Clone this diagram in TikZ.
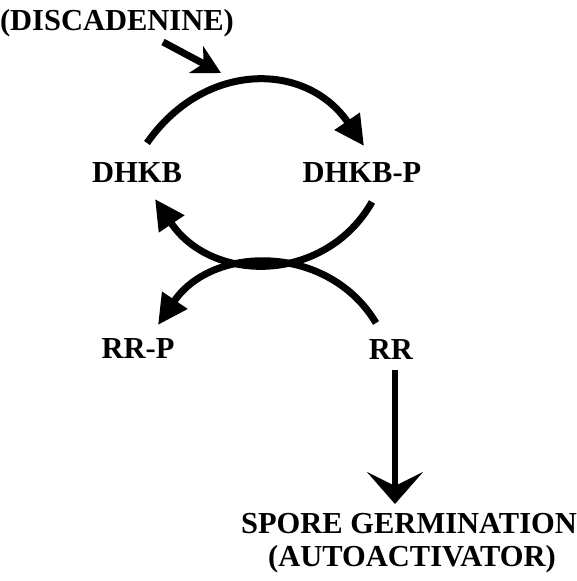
\documentclass[tikz,border=0pt]{standalone}
\usepackage{fontspec}
\setmainfont{Liberation Serif}
\usetikzlibrary{arrows.meta}
\begin{document}
\begin{tikzpicture}[x=1pt,y=-1pt,
  lbl/.style={anchor=base,inner sep=0pt,font=\fontsize{30.5}{36}\selectfont\bfseries},
  arc/.style={line width=7pt,-{Triangle[length=30pt,width=29pt]}},
  inarrow/.style={line width=7pt,-{Stealth[length=28pt,width=30pt,inset=8pt]}},
  outarrow/.style={line width=5.5pt,-{Stealth[length=32pt,width=56pt,inset=14pt]}}]
\useasboundingbox (0,0) rectangle (576,581);
\node[lbl] (disc) at (117,30) {(DISCADENINE)};
\node[lbl] (dhkb) at (137,182) {DHKB};
\node[lbl] (dhkbp) at (362,182) {DHKB-P};
\node[lbl] (rrp) at (138,358) {RR-P};
\node[lbl] (rr) at (391,359) {RR};
\node[lbl] (sg) at (409,533) {SPORE GERMINATION};
\node[lbl] (aa) at (412,566) {(AUTOACTIVATOR)};
% connector end points
\coordinate (d1) at (163,42);
\coordinate (d2) at (221,73);
\coordinate (t1) at (147,143);
\coordinate (t2) at (364,146);
\coordinate (u1) at (372,202);
\coordinate (u2) at (155,199);
\coordinate (l1) at (376,323);
\coordinate (l2) at (158,325);
\coordinate (v1) at (395,370);
\coordinate (v2) at (395,504);
\draw[inarrow] (d1) -- (d2);
\draw[arc] (t1) .. controls (204,61) and (306,61) .. (t2);
\draw[arc] (u1) .. controls (325,284) and (212,284) .. (u2);
\draw[arc] (l1) .. controls (329,244) and (213,244) .. (l2);
\draw[outarrow] (v1) -- (v2);
\end{tikzpicture}
\end{document}
